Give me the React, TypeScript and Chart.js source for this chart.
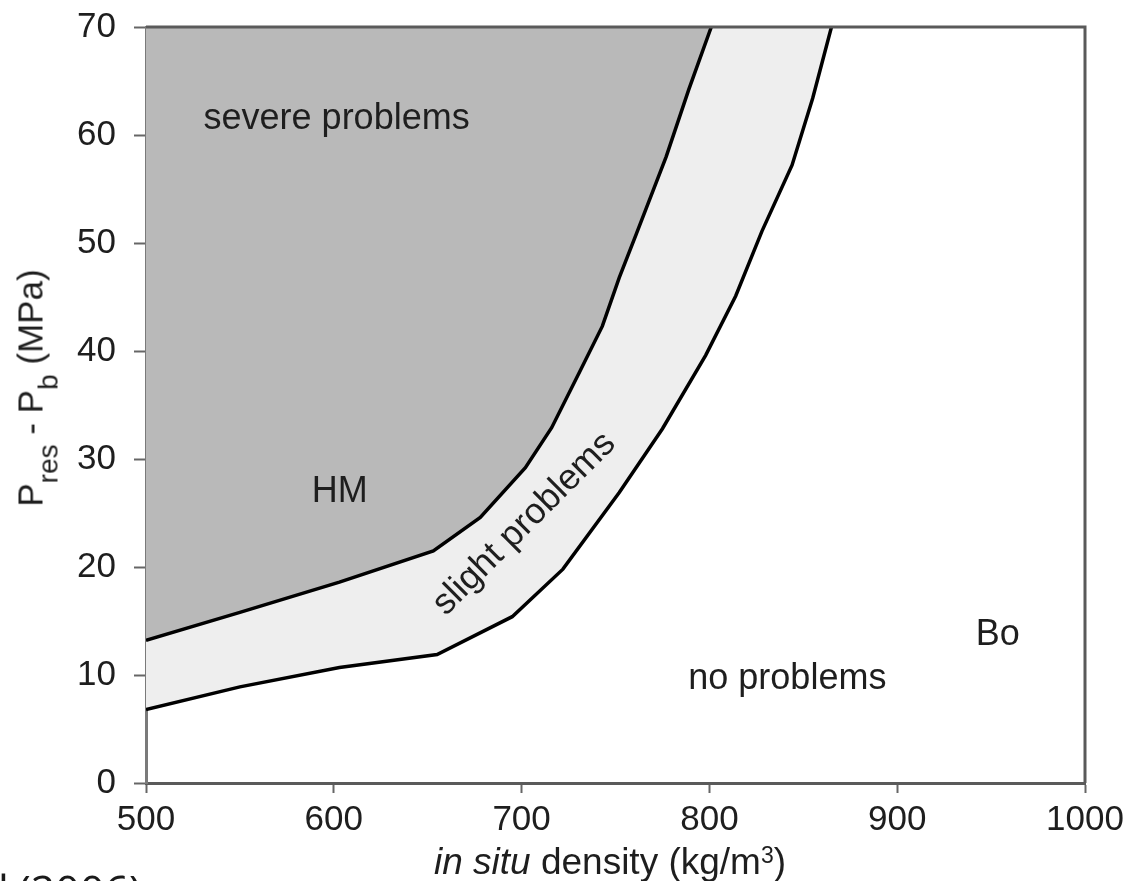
import React, { useEffect, useRef } from "react";
import { Chart, registerables } from "chart.js";

Chart.register(...registerables);

// Boundary between "severe problems" and "slight problems"
const upperDensity = [500, 550, 603, 653, 678, 702, 716, 731, 743, 752, 761, 777, 789, 801];
const upperPressure = [13.2, 15.8, 18.6, 21.5, 24.6, 29.2, 32.9, 38.1, 42.3, 46.8, 50.8, 58.0, 64.2, 70];

// Boundary between "slight problems" and "no problems"
const lowerDensity = [500, 550, 603, 655, 695, 722, 752, 775, 798, 814, 828, 844, 855, 865];
const lowerPressure = [6.8, 8.9, 10.7, 11.9, 15.4, 19.8, 26.9, 32.8, 39.6, 45.1, 51.1, 57.2, 63.4, 70];

const xTicks = [500, 600, 700, 800, 900, 1000];
const yTicks = [0, 10, 20, 30, 40, 50, 60, 70];

// In-plot labels (data coordinates)
const labelTexts = ["severe problems", "HM", "slight problems", "no problems", "Bo"];
const labelX = [601.5, 603.2, 701.5, 841.5, 953.5];
const labelY = [61.5, 26.9, 24.0, 9.6, 13.7];
const labelAngle = [0, 0, -45, 0, 0];

const FONT = '"Liberation Sans", Arial, Helvetica, sans-serif';

export default function App() {
  const canvasRef = useRef<HTMLCanvasElement | null>(null);

  useEffect(() => {
    const canvas = canvasRef.current;
    if (!canvas) return;

    const framePlugin = {
      id: "frame",
      afterDatasetsDraw(chart: any) {
        const { ctx, chartArea } = chart;
        ctx.save();
        ctx.strokeStyle = "#5a5a5a";
        ctx.lineWidth = 3;
        ctx.beginPath();
        ctx.moveTo(chartArea.left, chartArea.top);
        ctx.lineTo(chartArea.right, chartArea.top);
        ctx.lineTo(chartArea.right, chartArea.bottom);
        ctx.stroke();
        ctx.restore();
      },
    };

    const labelPlugin = {
      id: "regionLabels",
      afterDatasetsDraw(chart: any) {
        const { ctx } = chart;
        const xs = chart.scales.x;
        const ys = chart.scales.y;
        ctx.save();
        ctx.fillStyle = "#1e1e1e";
        ctx.font = `36px ${FONT}`;
        ctx.textAlign = "center";
        ctx.textBaseline = "middle";
        labelTexts.forEach((t, i) => {
          const px = xs.getPixelForValue(labelX[i]);
          const py = ys.getPixelForValue(labelY[i]);
          ctx.save();
          ctx.translate(px, py);
          ctx.rotate((labelAngle[i] * Math.PI) / 180);
          ctx.fillText(t, 0, 0);
          ctx.restore();
        });
        ctx.restore();
      },
    };

    const zeroPadding = (scale: any) => {
      scale.paddingTop = 0;
      scale.paddingBottom = 0;
      scale.paddingLeft = 0;
      scale.paddingRight = 0;
    };

    const chart = new Chart(canvas, {
      type: "line",
      data: {
        datasets: [
          {
            label: "upper",
            data: upperDensity.map((x, i) => ({ x, y: upperPressure[i] })),
            borderColor: "#000000",
            borderWidth: 3.5,
            backgroundColor: "#b9b9b9",
            fill: "end",
            pointRadius: 0,
            tension: 0,
          },
          {
            label: "lower",
            data: lowerDensity.map((x, i) => ({ x, y: lowerPressure[i] })),
            borderColor: "#000000",
            borderWidth: 3.5,
            backgroundColor: "#eeeeee",
            fill: "end",
            pointRadius: 0,
            tension: 0,
          },
        ],
      },
      options: {
        responsive: false,
        animation: false,
        layout: { padding: { left: 0, top: 27, right: 44, bottom: 0 } },
        plugins: {
          legend: { display: false },
          tooltip: { enabled: false },
        },
        scales: {
          x: {
            type: "linear",
            min: 500,
            max: 1000,
            afterFit(scale: any) {
              scale.height = 98;
              zeroPadding(scale);
            },
            afterBuildTicks(scale: any) {
              scale.ticks = xTicks.map((v) => ({ value: v }));
            },
            ticks: {
              font: { family: FONT, size: 35 },
              color: "#1e1e1e",
              padding: 6,
              maxRotation: 0,
              autoSkip: false,
              callback: (v: any) => String(v),
            },
            grid: {
              drawOnChartArea: false,
              drawTicks: true,
              tickLength: 10,
              tickColor: "#666666",
              tickWidth: 2,
            },
            border: { display: true, color: "#5a5a5a", width: 3 },
          },
          y: {
            type: "linear",
            min: 0,
            max: 70,
            afterFit(scale: any) {
              scale.width = 146;
              zeroPadding(scale);
            },
            afterBuildTicks(scale: any) {
              scale.ticks = yTicks.map((v) => ({ value: v }));
            },
            ticks: {
              font: { family: FONT, size: 35 },
              color: "#1e1e1e",
              padding: 18,
              autoSkip: false,
              callback: (v: any) => String(v),
            },
            grid: {
              drawOnChartArea: false,
              drawTicks: true,
              tickLength: 12,
              tickColor: "#666666",
              tickWidth: 2,
            },
            border: { display: true, color: "#7a7a7a", width: 3 },
          },
        },
      },
      plugins: [framePlugin, labelPlugin],
    });

    return () => {
      chart.destroy();
    };
  }, []);

  return (
    <div
      style={{
        position: "absolute",
        left: 0,
        top: 0,
        width: 1129,
        height: 881,
        overflow: "hidden",
        background: "#ffffff",
      }}
    >
      <canvas
        ref={canvasRef}
        width={1129}
        height={881}
        style={{ display: "block", width: 1129, height: 881 }}
      />
      <div
        style={{
          position: "absolute",
          left: 30,
          top: 388,
          transform: "translate(-50%, -50%) rotate(-90deg)",
          whiteSpace: "nowrap",
          font: `35px ${FONT}`,
          lineHeight: 1,
          color: "#1e1e1e",
        }}
      >
        P
        <span style={{ fontSize: 28, position: "relative", top: 15 }}>res</span>
        {" - P"}
        <span style={{ fontSize: 28, position: "relative", top: 15 }}>b</span>
        {" (MPa)"}
      </div>
      <div
        style={{
          position: "absolute",
          left: 610,
          top: 843,
          transform: "translateX(-50%)",
          whiteSpace: "nowrap",
          font: `37px ${FONT}`,
          lineHeight: 1,
          color: "#1e1e1e",
        }}
      >
        <i>in situ</i>
        {" density (kg/m"}
        <span style={{ fontSize: 23, position: "relative", top: -11 }}>3</span>
        {")"}
      </div>
      <div
        style={{
          position: "absolute",
          left: -2,
          top: 869,
          whiteSpace: "nowrap",
          font: '43px "Open Sans", "DejaVu Sans", sans-serif',
          lineHeight: 1,
          wordSpacing: -2,
          color: "#1a1a1a",
        }}
      >
        l (2006)
      </div>
    </div>
  );
}
